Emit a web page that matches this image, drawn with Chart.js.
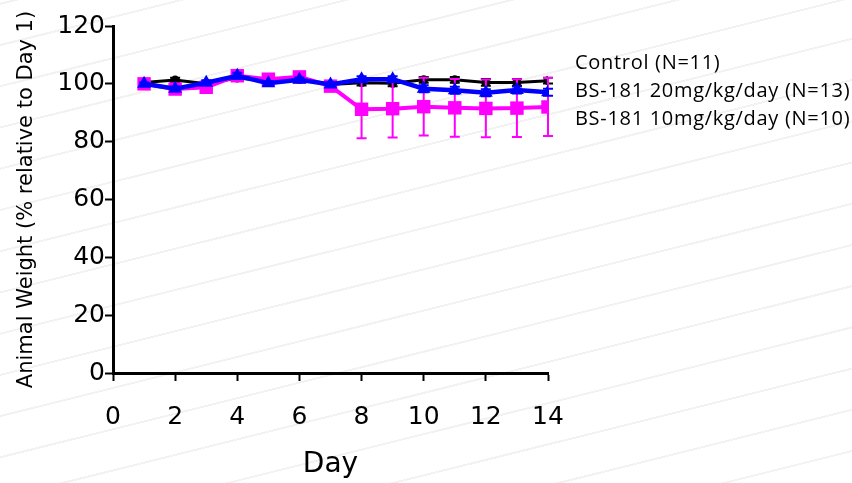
<!DOCTYPE html>
<html>
<head>
<meta charset="utf-8">
<script src="https://cdn.jsdelivr.net/npm/chart.js@4"></script>
<style>
  html, body { margin: 0; padding: 0; }
  body {
    width: 852px; height: 483px; overflow: hidden; position: relative;
    background: #fff repeating-linear-gradient(-14deg, #fff 0 30px, #f2f2f2 30px 32px, #fff 32px 40px);
  }
  #wrap { position: absolute; left: 0; top: 0; width: 852px; height: 483px; }
  .legend { position: absolute; left: 575px; font-family: "Open Sans", sans-serif; font-size: 20px; letter-spacing: 0.7px; color: #000; line-height: 1; white-space: nowrap; }
</style>
</head>
<body>
<div id="wrap"><canvas id="c" width="852" height="483"></canvas></div>
<div class="legend" style="top:52px">Control (N=11)</div>
<div class="legend" style="top:80px">BS-181 20mg/kg/day (N=13)</div>
<div class="legend" style="top:108px">BS-181 10mg/kg/day (N=10)</div>
<script>
// weights as % of day 1
const days = [1, 2, 3, 4, 5, 6, 7, 8, 9, 10, 11, 12, 13, 14]
const control = [100.5, 101.3, 100, 102, 101, 101.5, 99.8, 100.4, 100.2, 101.4, 101.4, 100.5, 100.5, 101.1]
const controlErr = [0.5, 0.8, 0.8, 1, 0.8, 0.8, 0.8, 1, 1, 1, 1, 1.2, 1.2, 1]
const dose20 = [100, 98.3, 100.4, 102.8, 100.2, 101.4, 99.8, 101.6, 101.6, 98.3, 97.8, 96.9, 97.9, 97.1]
const dose20Err = [0.5, 0.8, 0.8, 1, 0.8, 0.8, 0.8, 1, 1, 1.2, 1.2, 1.2, 1.2, 1.2]
const dose10 = [100, 98.2, 98.8, 102.8, 101.6, 102.4, 99.2, 91.2, 91.4, 92.1, 91.7, 91.5, 91.6, 92]
const dose10Err = [0.5, 1, 1, 1, 1, 1, 1, 10, 10, 10, 10, 10, 10, 10]
const xTicks = [0, 2, 4, 6, 8, 10, 12, 14]
const yTicks = [0, 20, 40, 60, 80, 100, 120]

const pts = (ys) => days.map((d, i) => ({ x: d, y: ys[i] }))

// vertical error bars with caps, drawn per dataset
const errorBars = {
  id: 'errorBars',
  afterDatasetDraw (chart, args) {
    const ds = chart.data.datasets[args.index]
    if (!ds.errors) return
    const { ctx, scales: { x, y } } = chart
    ctx.save()
    ctx.strokeStyle = ds.borderColor
    ctx.lineWidth = 2
    ds.data.forEach((p, i) => {
      const e = ds.errors[i]
      const px = x.getPixelForValue(p.x)
      const top = y.getPixelForValue(p.y + e)
      const bot = y.getPixelForValue(p.y - e)
      ctx.beginPath()
      ctx.moveTo(px, top); ctx.lineTo(px, bot)
      ctx.moveTo(px - 5, top); ctx.lineTo(px + 5, top)
      ctx.moveTo(px - 5, bot); ctx.lineTo(px + 5, bot)
      ctx.stroke()
    })
    ctx.restore()
  }
}

const tickFont = { family: 'DejaVu Sans', size: 25 }

new Chart(document.getElementById('c'), {
  type: 'line',
  data: {
    datasets: [
      { label: 'BS-181 20mg/kg/day (N=13)', data: pts(dose20), errors: dose20Err, order: 0,
        borderColor: '#0000ff', backgroundColor: '#0000ff', borderWidth: 4.5,
        pointStyle: 'triangle', pointRadius: 8, pointBorderWidth: 0 },
      { label: 'BS-181 10mg/kg/day (N=10)', data: pts(dose10), errors: dose10Err, order: 1,
        borderColor: '#ff00ff', backgroundColor: '#ff00ff', borderWidth: 4,
        pointStyle: 'rect', pointRadius: 9.5, pointBorderWidth: 0 },
      { label: 'Control (N=11)', data: pts(control), errors: controlErr, order: 2,
        borderColor: '#000000', backgroundColor: '#000000', borderWidth: 3,
        pointStyle: 'circle', pointRadius: 4.5, pointBorderWidth: 0 }
    ]
  },
  options: {
    responsive: false, animation: false,
    layout: { padding: { top: 26, right: 304, left: 0, bottom: 0 } },
    plugins: { legend: { display: false }, tooltip: { enabled: false } },
    scales: {
      x: {
        type: 'linear', min: 0, max: 14,
        afterBuildTicks: (s) => { s.ticks = xTicks.map(v => ({ value: v })) },
        afterFit: (s) => { s.height = 110 },
        grid: { drawOnChartArea: false, drawTicks: true, tickLength: 8, tickWidth: 2, tickColor: '#000' },
        border: { color: '#000', width: 3 },
        ticks: { color: '#000', font: tickFont, padding: 21, maxRotation: 0 },
        title: { display: true, text: 'Day', color: '#000', font: { family: 'DejaVu Sans', size: 28 }, padding: { top: 0, bottom: 1 } }
      },
      y: {
        min: 0, max: 120,
        afterBuildTicks: (s) => { s.ticks = yTicks.map(v => ({ value: v })) },
        afterFit: (s) => { s.width = 113 },
        grid: { drawOnChartArea: false, drawTicks: true, tickLength: 8, tickWidth: 2, tickColor: '#000' },
        border: { color: '#000', width: 3 },
        ticks: { color: '#000', font: tickFont, padding: 0 },
        title: { display: true, text: 'Animal Weight (% relative to Day 1)', color: '#000', font: { family: 'DejaVu Sans', size: 21 }, padding: { top: 14, bottom: 0 } }
      }
    }
  },
  plugins: [errorBars]
})
</script>
</body>
</html>
